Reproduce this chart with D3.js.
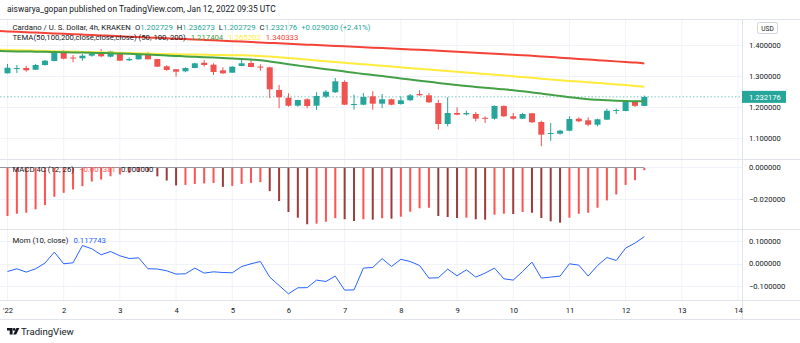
<!DOCTYPE html>
<html>
<head>
<meta charset="utf-8">
<script src="https://cdn.jsdelivr.net/npm/d3@7"></script>
<style>
  body { margin: 0; background: #fff; }
  svg { display: block; font-family: Roboto, "Liberation Sans", sans-serif; }
</style>
</head>
<body>
<svg id="chart" width="800" height="343"></svg>
<script>
// ---- данные: свечи ADA/USD 4h, 1 янв 00:00 UTC ... 12 янв 08:00 UTC ----
const firstBar = Date.UTC(2022, 0, 1, 0, 0);
const barMs = 4 * 3600 * 1000;

const openV = [1.3084,1.3250,1.3256,1.3200,1.3353,1.3482,1.3806,1.3596,1.3570,1.3654,1.3731,1.3621,1.3764,1.3505,1.3537,1.3718,1.3547,1.3311,1.3214,1.3149,1.3256,1.3427,1.3363,1.3181,1.3104,1.3320,1.3418,1.3301,1.3278,1.2544,1.2295,1.2036,1.2243,1.2036,1.2327,1.2470,1.2803,1.2068,1.2068,1.2340,1.2101,1.2243,1.2091,1.2211,1.2414,1.2372,1.2123,1.1444,1.1800,1.1757,1.1767,1.1644,1.1615,1.2026,1.1693,1.1615,1.1790,1.1508,1.1130,1.1130,1.1227,1.1615,1.1563,1.1421,1.1583,1.1874,1.1864,1.2178,1.202729];
const highV = [1.3385,1.3353,1.3320,1.3385,1.3515,1.3838,1.3838,1.3676,1.3709,1.3773,1.3871,1.3816,1.3773,1.3602,1.3751,1.3773,1.3557,1.3343,1.3223,1.3278,1.3427,1.3515,1.3408,1.3278,1.3311,1.3547,1.3537,1.3376,1.3298,1.2706,1.2437,1.2230,1.2275,1.2470,1.2544,1.2932,1.2858,1.2392,1.2447,1.2502,1.2414,1.2262,1.2340,1.2414,1.2534,1.2447,1.2230,1.2308,1.1984,1.1874,1.1832,1.1693,1.2049,1.2049,1.1800,1.1800,1.1800,1.1550,1.1476,1.1259,1.1693,1.1660,1.1660,1.1615,1.1939,1.1939,1.2211,1.2211,1.236273];
const lowV = [1.3078,1.3094,1.3136,1.3191,1.3330,1.3473,1.3538,1.3440,1.3492,1.3621,1.3602,1.3602,1.3485,1.3482,1.3530,1.3530,1.3288,1.3168,1.2974,1.3117,1.3246,1.3298,1.3029,1.3062,1.3100,1.3311,1.3278,1.3168,1.2285,1.1952,1.2003,1.2003,1.1952,1.1897,1.2285,1.2447,1.2060,1.1906,1.2049,1.1906,1.1961,1.2049,1.2068,1.2195,1.2359,1.2123,1.1259,1.1369,1.1725,1.1725,1.1530,1.1476,1.1583,1.1670,1.1583,1.1605,1.1476,1.0722,1.0903,1.1097,1.1207,1.1499,1.1369,1.1369,1.1573,1.1767,1.1855,1.1994,1.202729];
const closeV = [1.3265,1.3255,1.3181,1.3353,1.3492,1.3806,1.3557,1.3563,1.3654,1.3731,1.3634,1.3796,1.3492,1.3547,1.3731,1.3537,1.3298,1.3191,1.3136,1.3256,1.3408,1.3353,1.3126,1.3084,1.3298,1.3408,1.3288,1.3291,1.2566,1.2308,1.2036,1.2220,1.2026,1.2350,1.2489,1.2825,1.2068,1.2091,1.2317,1.2101,1.2243,1.2068,1.2211,1.2372,1.2372,1.2146,1.1444,1.1800,1.1745,1.1800,1.1615,1.1632,1.2026,1.1693,1.1615,1.1767,1.1499,1.1097,1.1153,1.1227,1.1605,1.1531,1.1421,1.1596,1.1874,1.1897,1.2188,1.203146,1.232176];

// TEMA: на один бар раньше (31 дек 20:00), чтобы линии доходили до левого края
const temaFirstBar = firstBar - barMs;
const tema50 = [1.3806,1.3799,1.3793,1.3790,1.3783,1.3780,1.3773,1.3767,1.3761,1.3754,1.3748,1.3741,1.3735,1.3725,1.3715,1.3702,1.3689,1.3676,1.3660,1.3647,1.3631,1.3618,1.3605,1.3592,1.3579,1.3566,1.3550,1.3531,1.3508,1.3466,1.3424,1.3379,1.3337,1.3295,1.3256,1.3217,1.3181,1.3142,1.3103,1.3064,1.3029,1.2994,1.2958,1.2919,1.2884,1.2845,1.2809,1.2774,1.2738,1.2706,1.2673,1.2644,1.2615,1.2589,1.2567,1.2537,1.2505,1.2466,1.2427,1.2388,1.2350,1.2311,1.2275,1.2246,1.2227,1.2210,1.2197,1.2188,1.2181,1.217404];
const tema100 = [1.3845,1.3838,1.3832,1.3822,1.3816,1.3806,1.3799,1.3793,1.3786,1.3777,1.3770,1.3764,1.3754,1.3748,1.3738,1.3731,1.3722,1.3715,1.3709,1.3702,1.3696,1.3689,1.3686,1.3680,1.3676,1.3670,1.3667,1.3657,1.3644,1.3625,1.3605,1.3579,1.3553,1.3528,1.3502,1.3476,1.3450,1.3424,1.3401,1.3375,1.3353,1.3327,1.3301,1.3278,1.3252,1.3230,1.3204,1.3181,1.3155,1.3133,1.3107,1.3084,1.3062,1.3039,1.3016,1.2990,1.2964,1.2939,1.2909,1.2884,1.2861,1.2838,1.2816,1.2793,1.2770,1.2748,1.2725,1.2702,1.2676,1.265202];
const tema200 = [1.4453,1.4440,1.4427,1.4414,1.4401,1.4388,1.4375,1.4362,1.4349,1.4336,1.4323,1.4310,1.4297,1.4284,1.4271,1.4258,1.4245,1.4232,1.4219,1.4206,1.4193,1.4180,1.4166,1.4152,1.4138,1.4124,1.4110,1.4096,1.4082,1.4068,1.4054,1.4040,1.4026,1.4012,1.3998,1.3984,1.3970,1.3956,1.3942,1.3928,1.3914,1.3900,1.3886,1.3872,1.3858,1.3844,1.3830,1.3814,1.3798,1.3782,1.3766,1.3750,1.3734,1.3718,1.3702,1.3686,1.3670,1.3650,1.3630,1.3610,1.3590,1.3570,1.3550,1.3530,1.3510,1.3490,1.3470,1.3450,1.3430,1.340333];

// MACD histogram (12, 26)
const macdHist = [-0.02945,-0.02805,-0.02744,-0.02537,-0.02274,-0.01768,-0.01524,-0.01317,-0.01116,-0.00829,-0.00707,-0.00506,-0.00396,-0.00305,-0.00244,-0.00213,-0.00510,-0.00768,-0.01067,-0.01037,-0.00976,-0.00945,-0.00915,-0.01159,-0.01098,-0.00976,-0.00915,-0.00872,-0.01421,-0.02030,-0.02701,-0.03049,-0.03451,-0.03415,-0.03293,-0.03079,-0.03140,-0.03250,-0.03146,-0.03171,-0.03079,-0.03110,-0.02988,-0.02683,-0.02470,-0.02439,-0.02945,-0.03006,-0.03067,-0.03049,-0.03146,-0.03171,-0.02866,-0.02805,-0.02823,-0.02701,-0.02744,-0.03067,-0.03268,-0.03354,-0.03049,-0.02805,-0.02744,-0.02439,-0.01988,-0.01622,-0.01037,-0.00750,-0.001381];

// Momentum (10, close)
const momV = [-0.0351,-0.0232,-0.0377,-0.0232,0.0018,0.0500,-0.0013,0.0031,0.0789,0.0645,0.0382,0.0526,0.0338,0.0219,0.0250,-0.0232,-0.0240,-0.0320,-0.0465,-0.0452,-0.0202,-0.0421,-0.0364,-0.0395,-0.0408,-0.0132,-0.0013,0.0088,-0.0596,-0.0965,-0.1329,-0.1066,-0.1060,-0.0728,-0.0789,-0.0553,-0.1167,-0.1160,-0.0202,-0.0175,0.0215,-0.0132,0.0184,0.0088,-0.0088,-0.0640,-0.0627,-0.0246,-0.0539,-0.0276,-0.0596,-0.0421,-0.0202,-0.0671,-0.0728,-0.0351,0.0061,-0.0640,-0.0596,-0.0553,-0.0013,-0.0070,-0.0553,-0.0088,0.0263,0.0132,0.0675,0.0895,0.117743];

const priceTicks = [1.1, 1.2, 1.3, 1.4];
const macdTicks = [-0.02, 0];
const momTicks = [-0.1, 0, 0.1];

// ---- разметка ----
const svg = d3.select("#chart");
const axisX = 742;          // граница правой шкалы
const paneTop = 19, mainBottom = 159, macdBottom = 229, momBottom = 300, timeBottom = 319;
const gridColor = "#f0f3fa", borderColor = "#e0e3eb", textColor = "#131722";
const fs = 7.6, legendFs = 7.75;

const x = d3.scaleUtc()
    .domain([new Date(Date.UTC(2022, 0, 1)), new Date(Date.UTC(2022, 0, 14))])
    .range([7.5, 738]);
const yMain = d3.scaleLinear().domain([1.1, 1.4]).range([137.7, 45]);
const yMacd = d3.scaleLinear().domain([-0.02, 0]).range([199.3, 166.7]);
const yMom = d3.scaleLinear().domain([-0.1, 0.1]).range([286.3, 240.7]);

const bars = openV.map((o, i) => ({
    t: new Date(firstBar + i * barMs), o, h: highV[i], l: lowV[i], c: closeV[i],
    macd: macdHist[i], mom: momV[i]
}));
const temaRows = tema50.map((v, i) => ({
    t: new Date(temaFirstBar + i * barMs), a: v, b: tema100[i], c: tema200[i]
}));

// клипы для панелей
const defs = svg.append("defs");
[["clipMain", paneTop, mainBottom], ["clipMacd", mainBottom, macdBottom], ["clipMom", macdBottom, momBottom]]
    .forEach(([id, y0, y1]) => defs.append("clipPath").attr("id", id)
        .append("rect").attr("x", 0).attr("y", y0).attr("width", axisX).attr("height", y1 - y0));

// сетка
const grid = svg.append("g");
const days = x.ticks(d3.utcDay.every(1));
grid.selectAll("line.v").data(days).enter().append("line")
    .attr("x1", d => x(d)).attr("x2", d => x(d))
    .attr("y1", paneTop).attr("y2", momBottom)
    .attr("stroke", gridColor);
const hGrid = (ticks, scale) => grid.selectAll(null).data(ticks).enter().append("line")
    .attr("x1", 0).attr("x2", axisX)
    .attr("y1", d => Math.round(scale(d)) + 0.5).attr("y2", d => Math.round(scale(d)) + 0.5)
    .attr("stroke", gridColor);
hGrid(priceTicks, yMain);
hGrid(macdTicks, yMacd);
hGrid(momTicks, yMom);

// рамки панелей
const borders = svg.append("g").attr("stroke", borderColor);
[paneTop, mainBottom, macdBottom, momBottom, timeBottom].forEach(y =>
    borders.append("line").attr("x1", 0).attr("x2", 800).attr("y1", y + 0.5).attr("y2", y + 0.5));
borders.append("line").attr("x1", axisX + 0.5).attr("x2", axisX + 0.5).attr("y1", paneTop).attr("y2", timeBottom);

// ---- основная панель ----
const main = svg.append("g").attr("clip-path", "url(#clipMain)");
const lastClose = closeV[closeV.length - 1];

main.append("line")
    .attr("x1", 0).attr("x2", axisX)
    .attr("y1", yMain(lastClose)).attr("y2", yMain(lastClose))
    .attr("stroke", "#26a69a").attr("stroke-opacity", 0.6)
    .attr("stroke-dasharray", "1.5,2");

const candle = main.selectAll("g.candle").data(bars).enter().append("g")
    .attr("fill", d => d.c >= d.o ? "#26a69a" : "#ef5350")
    .attr("stroke", d => d.c >= d.o ? "#26a69a" : "#ef5350");
candle.append("line")
    .attr("x1", d => x(d.t)).attr("x2", d => x(d.t))
    .attr("y1", d => yMain(d.h)).attr("y2", d => yMain(d.l))
    .attr("stroke-width", 1);
candle.append("rect")
    .attr("stroke", "none")
    .attr("x", d => x(d.t) - 3).attr("width", 6)
    .attr("y", d => yMain(Math.max(d.o, d.c)))
    .attr("height", d => Math.max(1, Math.abs(yMain(d.o) - yMain(d.c))));

const temaLine = key => d3.line().x(d => x(d.t)).y(d => yMain(d[key])).curve(d3.curveMonotoneX);
[["c", "#f44336"], ["b", "#ffeb3b"], ["a", "#43a047"]].forEach(([k, col]) =>
    main.append("path").datum(temaRows)
        .attr("fill", "none").attr("stroke", col).attr("stroke-width", 2)
        .attr("d", temaLine(k)));

// ---- MACD ----
const macd = svg.append("g").attr("clip-path", "url(#clipMacd)");
macd.append("line")
    .attr("x1", 0).attr("x2", x(bars[bars.length - 1].t))
    .attr("y1", Math.round(yMacd(0)) + 0.5).attr("y2", Math.round(yMacd(0)) + 0.5)
    .attr("stroke", "#9598a1");
macd.selectAll("rect").data(bars).enter().append("rect")
    .attr("x", d => x(d.t) - 1).attr("width", 2)
    .attr("y", Math.round(yMacd(0)) + 1)
    .attr("height", d => yMacd(d.macd) - yMacd(0))
    .attr("fill", (d, i) => (i > 0 && d.macd < bars[i - 1].macd) ? "#9b3c3c" : "#ff5252");

// ---- Momentum ----
const mom = svg.append("g").attr("clip-path", "url(#clipMom)");
mom.append("path").datum(bars)
    .attr("fill", "none").attr("stroke", "#2962ff").attr("stroke-width", 1)
    .attr("d", d3.line().x(d => x(d.t)).y(d => yMom(d.mom)));

// ---- правые шкалы ----
const rightAxis = (scale, ticks) => {
    const g = svg.append("g")
        .attr("transform", `translate(${axisX},0)`)
        .call(d3.axisRight(scale).tickValues(ticks).tickSize(0).tickPadding(7)
            .tickFormat(d3.format(".6f")));
    g.select(".domain").remove();
    g.selectAll("text").attr("fill", textColor).style("font-size", fs + "px")
        .style("font-family", "Roboto, sans-serif");
};
rightAxis(yMain, priceTicks);
rightAxis(yMacd, macdTicks);
rightAxis(yMom, momTicks);

// метка текущей цены
const tagY = yMain(lastClose);
svg.append("rect").attr("x", axisX).attr("y", tagY - 6).attr("width", 44).attr("height", 12)
    .attr("fill", "#26a69a");
svg.append("text").attr("x", axisX + 7).attr("y", tagY + 2.8)
    .attr("fill", "#fff").style("font-size", fs + "px").text(d3.format(".6f")(lastClose));

// USD
svg.append("rect").attr("x", 757.5).attr("y", 22.5).attr("width", 20).attr("height", 11).attr("rx", 2)
    .attr("fill", "#fff").attr("stroke", "#d1d4dc");
svg.append("text").attr("x", 767.5).attr("y", 30.5).attr("text-anchor", "middle")
    .attr("fill", textColor).style("font-size", "6.5px").text("USD");

// ---- ось времени ----
const xAxis = svg.append("g")
    .attr("transform", `translate(0,${momBottom})`)
    .call(d3.axisBottom(x).tickValues(days).tickSize(0).tickPadding(7.6)
        .tickFormat(d => d.getUTCDate() === 1 ? "'22" : d.getUTCDate()));
xAxis.select(".domain").remove();
xAxis.selectAll("text").attr("fill", textColor).style("font-size", fs + "px")
    .style("font-family", "Roboto, sans-serif");

// ---- тексты легенд ----
const f6 = d3.format(".6f");
const legend = (x0, y0, parts) => {
    const t = svg.append("text").attr("x", x0).attr("y", y0).style("font-size", legendFs + "px");
    parts.forEach(([s, col, dx]) => t.append("tspan").attr("fill", col).attr("dx", dx || 0).text(s));
};
const last = bars[bars.length - 1];
const prevClose = closeV[closeV.length - 2];
const change = last.c - prevClose;

svg.append("text").attr("x", 7).attr("y", 12).attr("fill", textColor).style("font-size", "8.4px")
    .text("aiswarya_gopan published on TradingView.com, Jan 12, 2022 09:35 UTC");

legend(12.5, 30, [
    ["Cardano / U. S. Dollar, 4h, KRAKEN", textColor],
    ["O", textColor, 4], [f6(last.o), "#26a69a"],
    ["H", textColor, 4], [f6(last.h), "#26a69a"],
    ["L", textColor, 4], [f6(last.l), "#26a69a"],
    ["C", textColor, 4], [f6(last.c), "#26a69a"],
    ["+" + f6(change) + " (+" + d3.format(".2%")(change / prevClose) + ")", "#26a69a", 4]
]);
legend(12.5, 40, [
    ["TEMA(50,100,200,close,close,close) (50, 100, 200)", textColor],
    [f6(tema50[tema50.length - 1]), "#43a047", 5],
    [f6(tema100[tema100.length - 1]), "#ffeb3b", 5],
    [f6(tema200[tema200.length - 1]), "#f44336", 5]
]);
legend(12.5, 172, [
    ["MACD 4C (12, 26)", textColor],
    [f6(last.macd).replace("-", "\u2212"), "#ff5252", 5],
    [f6(0), textColor, 5]
]);
legend(12.5, 243, [
    ["Mom (10, close)", textColor],
    [f6(last.mom), "#2962ff", 5]
]);

// логотип TradingView
const logo = svg.append("g").attr("fill", textColor);
logo.append("path").attr("d", "M7 328h5.6v6.4h-2.9v-3.8H7z");
logo.append("circle").attr("cx", 14.2).attr("cy", 329.4).attr("r", 1.3);
logo.append("path").attr("d", "M16.4 328h3l-3.2 6.4h-3z");
svg.append("text").attr("x", 21).attr("y", 334.6).attr("fill", textColor)
    .style("font-size", "9.6px").text("TradingView");
</script>
</body>
</html>
